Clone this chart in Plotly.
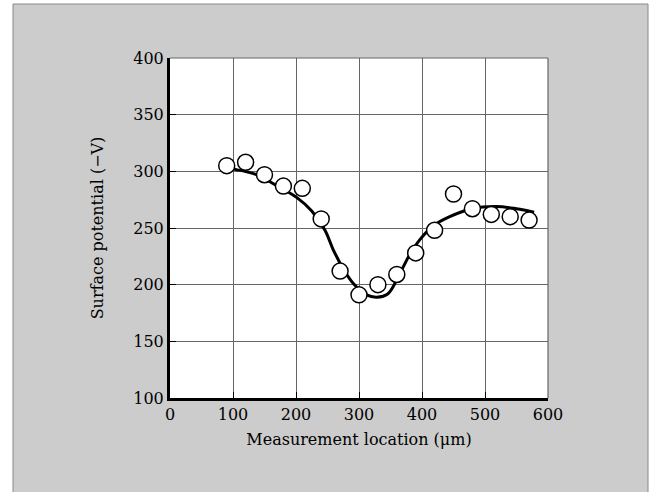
import plotly.graph_objects as go

# measured points
meas_x = [90, 120, 150, 180, 210, 240, 270, 300, 330, 360, 390, 420, 450, 480, 510, 540, 570]
meas_y = [305, 308, 297, 287, 285, 258, 212, 191, 200, 209, 228, 248, 280, 267, 262, 260, 257]

# fitted curve
fit_x = [90, 100, 135, 172, 201, 225, 246, 259, 275, 291, 312, 328, 346, 365, 381, 397, 418, 444, 479, 518, 550, 578]
fit_y = [303, 302, 297.5, 286.5, 277, 265, 248, 231, 214, 201, 191, 189, 192, 210, 227, 240, 252, 260, 267, 269, 267, 264]

x_ticks = [0, 100, 200, 300, 400, 500, 600]
y_ticks = [100, 150, 200, 250, 300, 350, 400]

W, H = 653, 492
L, R, T, B = 170, 105, 58, 94
pw, ph = W - L - R, H - T - B

def px(xp):
    return (xp - L) / pw

def py(yp):
    return (H - B - yp) / ph

font_family = "DejaVu Serif"

fig = go.Figure()
fig.add_trace(go.Scatter(x=fit_x, y=fit_y, mode="lines",
                         line=dict(color="black", width=3, shape="spline", smoothing=1.0),
                         hoverinfo="skip"))
fig.add_trace(go.Scatter(x=meas_x, y=meas_y, mode="markers",
                         marker=dict(size=16, color="white", line=dict(color="black", width=1.5))))

shapes = [
    # gray panel
    dict(type="rect", xref="paper", yref="paper", x0=px(13), x1=px(648), y0=py(500), y1=py(4),
         fillcolor="#cccccc", line=dict(color="#888888", width=1), layer="below"),
    # white plot area
    dict(type="rect", xref="paper", yref="paper", x0=0, x1=1, y0=0, y1=1,
         fillcolor="white", line=dict(width=0), layer="below"),
    # top and right border
    dict(type="line", xref="paper", yref="paper", x0=0, x1=1, y0=1, y1=1,
         line=dict(color="#666666", width=1.2), layer="above"),
    dict(type="line", xref="paper", yref="paper", x0=1, x1=1, y0=0, y1=1,
         line=dict(color="#666666", width=1.2), layer="above"),
]

fig.update_layout(
    width=W, height=H,
    margin=dict(l=L, r=R, t=T, b=B, pad=0),
    paper_bgcolor="white", plot_bgcolor="rgba(0,0,0,0)",
    showlegend=False,
    shapes=shapes,
    font=dict(family=font_family, size=16, color="black"),
)
fig.update_xaxes(range=[0, 600], tickvals=x_ticks, ticktext=[str(v) for v in x_ticks],
                 showgrid=True, gridcolor="#666666", gridwidth=1,
                 showline=True, linecolor="black", linewidth=3,
                 ticks="inside", ticklen=6, tickcolor="black", tickwidth=1,
                 zeroline=False, tickfont=dict(size=16),
                 title=dict(text="Measurement location (μm)", font=dict(size=16), standoff=11))
fig.update_yaxes(range=[100, 400], tickvals=y_ticks, ticktext=[str(v) for v in y_ticks],
                 showgrid=True, gridcolor="#666666", gridwidth=1,
                 showline=True, linecolor="black", linewidth=3,
                 ticks="inside", ticklen=6, tickcolor="black", tickwidth=1,
                 zeroline=False, tickfont=dict(size=16),
                 title=dict(text="Surface potential (−V)", font=dict(size=16), standoff=26))

fig.write_html("out.html")
